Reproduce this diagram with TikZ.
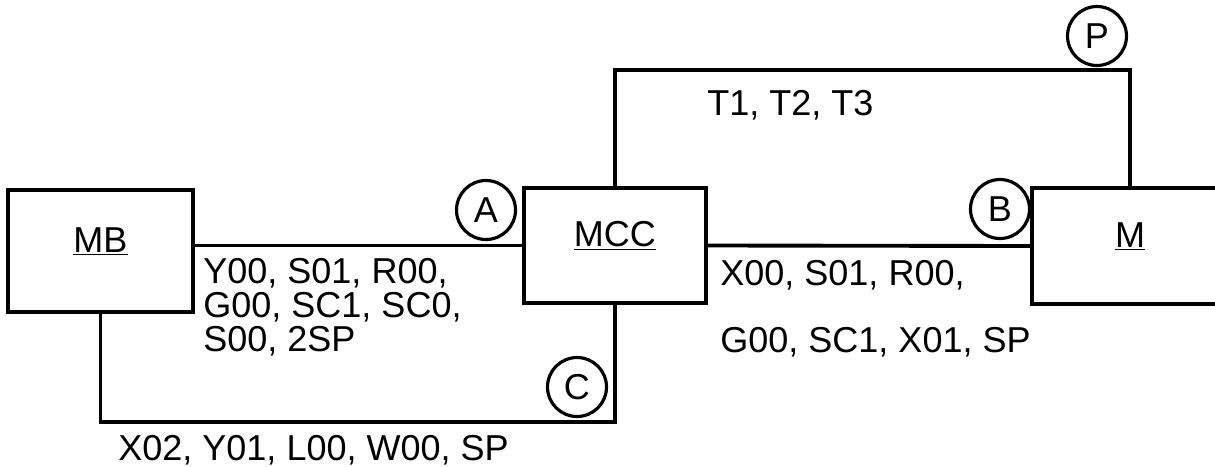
\documentclass[tikz,border=0pt]{standalone}
\usepackage{fontspec}
\setmainfont{Liberation Sans}
\usetikzlibrary{positioning,calc}

\tikzset{
  unit/.style={draw, line width=2.2pt, inner sep=0pt, text depth=0.45cm},
  tag/.style={circle, draw, line width=1.8pt, minimum size=1.18cm, inner sep=0pt},
  wire/.style={line width=2.2pt},
  lbl/.style={align=left, anchor=north west, inner sep=0pt}
}

\begin{document}
\begin{tikzpicture}[x=0.02cm, y=-0.02cm, font=\fontsize{20.5}{19.4}\selectfont]
  \useasboundingbox (0,0) rectangle (1215,467);
  % units
  \node[unit, minimum width=3.7cm, minimum height=2.44cm] (mb) at (100.5,251) {\underline{MB}};
  \node[unit, minimum width=3.64cm, minimum height=2.3cm] (mcc) at (615,245.5) {\underline{MCC}};
  \node[unit, minimum width=3.92cm, minimum height=2.32cm] (m) at (1130,246) {\underline{M}};
  % points
  \node[tag] (a) at (486,210) {A};
  \node[tag] (b) at (1000,209) {B};
  \node[tag] (c) at (577,387) {C};
  \node[tag] (p) at (1097,36) {P};
  \coordinate (top) at (0,70);
  \coordinate (low) at (0,422);
  % lines
  \draw[wire] (mb.east |- mcc.west) -- (mcc.west);
  \draw[wire] (mcc.east) -- (m.west);
  \draw[wire] (mb.south) |- (mcc.south |- low) -- (mcc.south);
  \draw[wire] (mcc.north) |- (m.north |- top) -- (m.north);
  % signals
  \node[lbl] (sa) at (203,258) {Y00, S01, R00,\\G00, SC1, SC0,\\S00, 2SP};
  \node[lbl] (sb) at (720,260) {X00, S01, R00,\\[19pt]G00, SC1, X01, SP};
  \node[lbl] (sc) at (118,435) {X02, Y01, L00, W00, SP};
  \node[lbl] (sp) at (707,90) {T1, T2, T3};
\end{tikzpicture}
\end{document}
